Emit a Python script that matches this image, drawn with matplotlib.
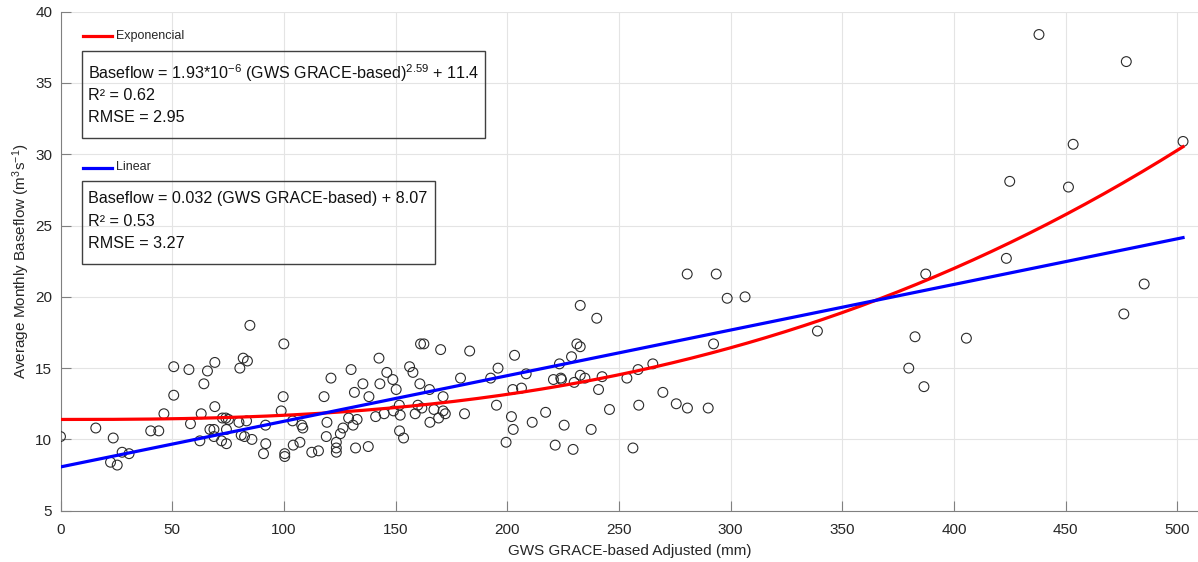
import numpy as np
import matplotlib.pyplot as plt
from matplotlib.patches import Rectangle

plt.rcParams['font.family'] = ['Liberation Sans', 'DejaVu Sans']
plt.rcParams['mathtext.fontset'] = 'custom'
plt.rcParams['mathtext.rm'] = 'Liberation Sans'
plt.rcParams['mathtext.it'] = 'Liberation Sans'

# GWS GRACE-based adjusted (mm) vs average monthly baseflow (m3/s)
gws = [0, 15.8, 23.6, 22.4, 25.4, 27.6, 30.7, 40.4, 44, 46.3, 50.7, 50.7, 57.5, 58.2,
       62.4, 63, 64.2, 65.8, 69.1, 69.1, 66.9, 68.7, 68.7, 72.1, 74.3, 74.3, 72.5, 74,
       75.2, 79.9, 80.3, 81.8, 83.7, 84.8, 80.9, 82.4, 83.3, 85.7, 91.8, 91.9, 90.9,
       100, 99.7, 98.8, 100.4, 100.4,
       103.9, 104.2, 107.2, 108, 108.5, 112.5, 115.5, 118, 119.3, 119, 121.1, 123.5,
       123.5, 123.5, 125.3, 126.5, 129, 130.1, 131.6, 131, 132.8, 132.1, 135.4, 137.8,
       138.1, 141.1, 142.6, 143, 144.9, 146.1, 148.8, 150.3, 149.1, 152.1, 151.8, 153.6,
       151.7, 156.3, 157.8, 161.2, 162.7, 160.9, 160, 158.8, 161.8, 165.2, 165.4, 167.2,
       169.3, 171.3, 171.3, 172.3, 170.2, 180.9, 179.1, 183.2, 192.6, 195.2, 195.9,
       203.3, 208.5, 202.5, 206.4, 201.9, 202.7, 199.5, 211.2, 217.2, 220.7, 223.4, 224,
       224.3, 221.5, 225.5, 228.8, 230, 231.2, 232.7, 232.7, 229.5, 232.7, 234.8, 237.6,
       240.1, 240.9, 242.5, 245.8, 253.6, 256.3, 258.6, 258.9, 265.2, 269.7, 275.7,
       280.7, 290, 292.4, 280.6, 293.6, 298.5,
       306.5, 338.9, 382.6, 379.8, 386.6, 405.6, 438.1, 477.2, 453.4, 502.6, 425,
       451.3, 423.5, 387.4, 485.2, 476.1]
baseflow = [10.2, 10.8, 10.1, 8.4, 8.2, 9.1, 9.0, 10.6, 10.6, 11.8, 15.1, 13.1, 14.9, 11.1,
            9.9, 11.8, 13.9, 14.8, 15.4, 12.3, 10.7, 10.7, 10.2, 9.9, 9.7, 10.7, 11.5, 11.5,
            11.4, 11.2, 15.0, 15.7, 15.5, 18.0, 10.3, 10.2, 11.3, 10.0, 11.0, 9.7, 9.0,
            16.7, 13.0, 12.0, 9.0, 8.8,
            11.3, 9.6, 9.8, 11.0, 10.8, 9.1, 9.2, 13.0, 11.2, 10.2, 14.3, 9.8,
            9.4, 9.1, 10.4, 10.8, 11.5, 14.9, 13.3, 11.0, 11.4, 9.4, 13.9, 9.5,
            13.0, 11.6, 15.7, 13.9, 11.8, 14.7, 14.2, 13.5, 12.0, 11.7, 10.6, 10.1,
            12.4, 15.1, 14.7, 16.7, 16.7, 13.9, 12.4, 11.8, 12.2, 13.5, 11.2, 12.1,
            11.5, 13.0, 12.0, 11.8, 16.3, 11.8, 14.3, 16.2, 14.3, 12.4, 15.0,
            15.9, 14.6, 13.5, 13.6, 11.6, 10.7, 9.8, 11.2, 11.9, 14.2, 15.3, 14.3,
            14.2, 9.6, 11.0, 15.8, 14.0, 16.7, 16.5, 19.4, 9.3, 14.5, 14.3, 10.7,
            18.5, 13.5, 14.4, 12.1, 14.3, 9.4, 14.9, 12.4, 15.3, 13.3, 12.5,
            12.2, 12.2, 16.7, 21.6, 21.6, 19.9,
            20.0, 17.6, 17.2, 15.0, 13.7, 17.1, 38.4, 36.5, 30.7, 30.9, 28.1,
            27.7, 22.7, 21.6, 20.9, 18.8]

# fitted models (from the chart annotations)
exp_a, exp_b, exp_c = 1.93e-6, 2.59, 11.4
lin_m, lin_q = 0.032, 8.07

W, H = 1198, 562
fig = plt.figure(figsize=(W / 100, H / 100), dpi=100)
ax = fig.add_axes([60.5 / W, 1 - 510.7 / H, 1 - 60.5 / W, (510.7 - 11.7) / H])

xf = np.linspace(0, max(gws), 300)
ax.scatter(gws, baseflow, s=50, facecolors='none', edgecolors='#2a2a2a', linewidths=0.8, zorder=3)
ax.plot(xf, exp_a * xf ** exp_b + exp_c, color='#ff0000', lw=2.3, zorder=4)
ax.plot(xf, lin_m * xf + lin_q, color='#0000ff', lw=2.3, zorder=4)

ax.set_xlim(0, 509.3)
ax.set_ylim(5, 40)
ax.set_xticks(np.arange(0, 501, 50))
ax.set_yticks(np.arange(5, 41, 5))
ax.grid(True, color='#e4e4e4', lw=0.8)
ax.set_axisbelow(True)
for s in ['top', 'right']:
    ax.spines[s].set_visible(False)
for s in ['left', 'bottom']:
    ax.spines[s].set_color('#808080')
ax.tick_params(direction='in', length=7, color='#808080', labelsize=11, labelcolor='#262626')
ax.tick_params(axis='x', pad=9)
ax.tick_params(axis='y', pad=6)
ax.set_xlabel('GWS GRACE-based Adjusted (mm)', fontsize=11, color='#262626', labelpad=5)
ax.set_ylabel('Average Monthly Baseflow (m$^3$s$^{-1}$)', fontsize=11, color='#262626', labelpad=2)


def fx(px):
    return px / W


def fy(py):
    return 1 - py / H


# legend entries and equation boxes
fig.add_artist(plt.Line2D([fx(83), fx(112)], [fy(36), fy(36)], color='#ff0000', lw=2.3))
fig.text(fx(116), fy(36), 'Exponencial', fontsize=9, va='center', color='#262626')
fig.add_artist(plt.Line2D([fx(83), fx(112)], [fy(167.5), fy(167.5)], color='#0000ff', lw=2.3))
fig.text(fx(116), fy(167.5), 'Linear', fontsize=9, va='center', color='#262626')

fig.add_artist(Rectangle((fx(82), fy(137.7)), fx(485) - fx(82), fy(50.7) - fy(137.7),
                         fill=False, ec='#404040', lw=1, transform=fig.transFigure))
fig.add_artist(Rectangle((fx(82), fy(264.3)), fx(434.7) - fx(82), fy(181) - fy(264.3),
                         fill=False, ec='#404040', lw=1, transform=fig.transFigure))

box1 = ['Baseflow = 1.93*10$^{-6}$ (GWS GRACE-based)$^{2.59}$ + 11.4', 'R² = 0.62', 'RMSE = 2.95']
box2 = ['Baseflow = 0.032 (GWS GRACE-based) + 8.07', 'R² = 0.53', 'RMSE = 3.27']
for txt, py in zip(box1, [73, 96, 118]):
    fig.text(fx(88.5), fy(py), txt, fontsize=11.6, va='center', color='#111111')
for txt, py in zip(box2, [198, 221, 243]):
    fig.text(fx(88.5), fy(py), txt, fontsize=11.6, va='center', color='#111111')

fig.savefig('out.png', dpi=100)
